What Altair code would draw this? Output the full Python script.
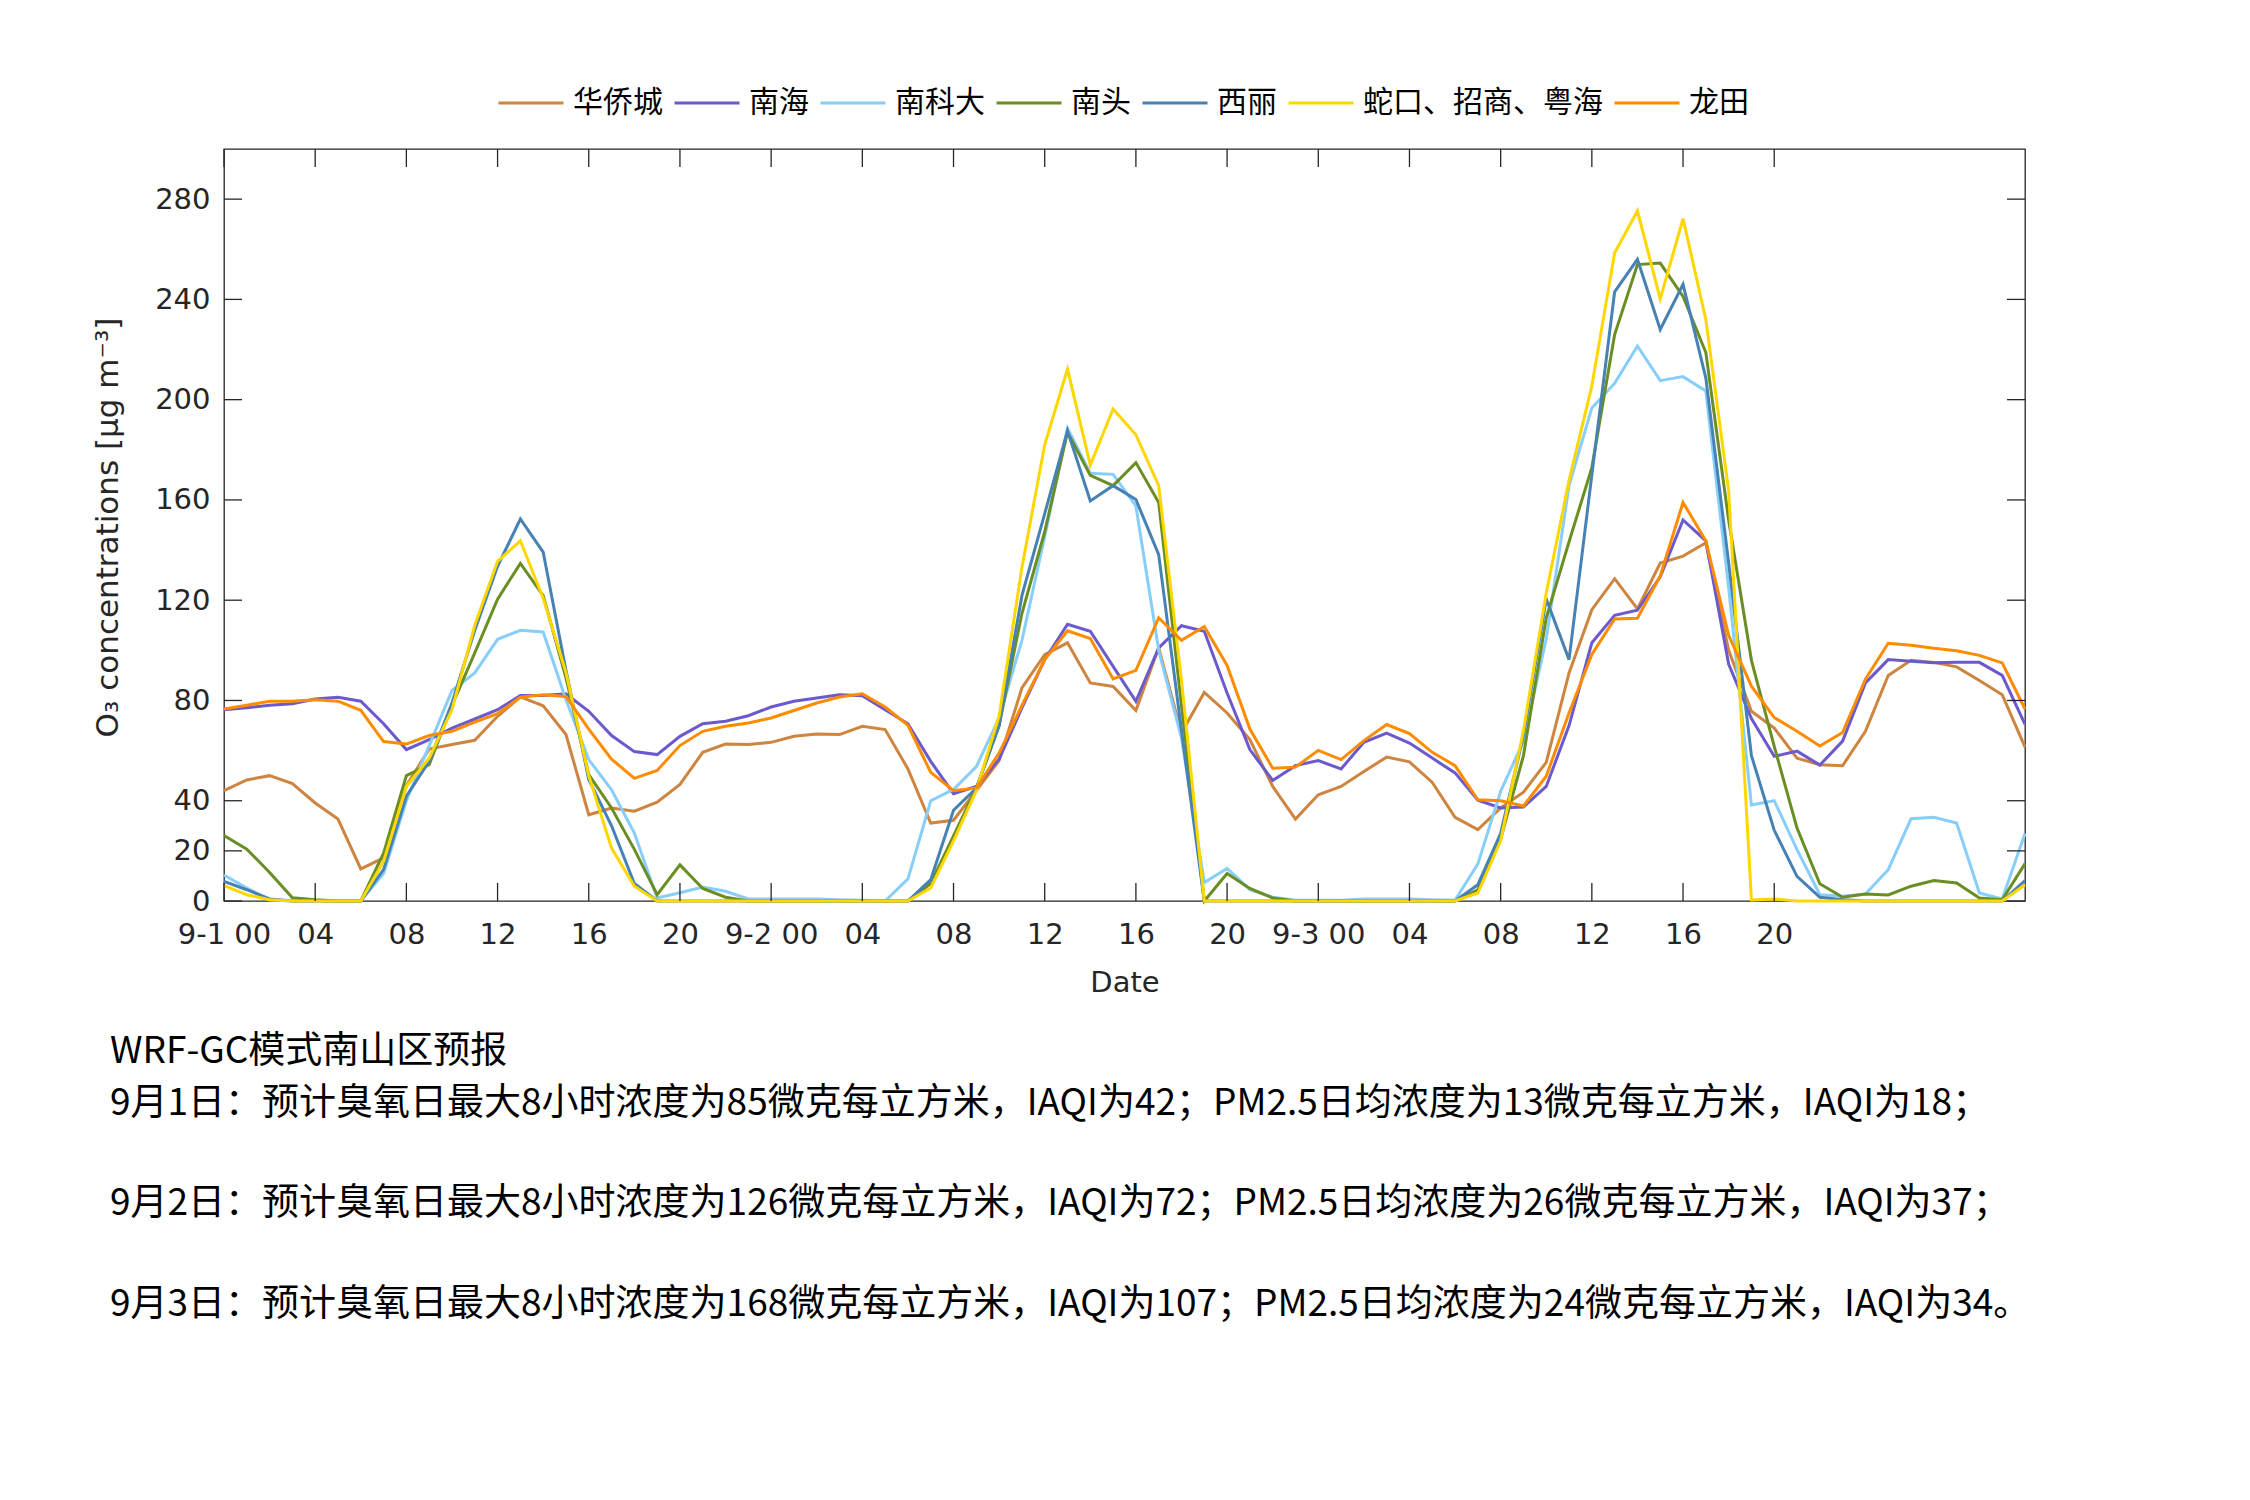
import altair as alt
import pandas as pd

# ---------------- data ----------------
hours = list(range(80))
stations = ["华侨城", "南海", "南科大", "南头", "西丽", "蛇口、招商、粤海", "龙田"]
colors = ["#CD853F", "#6A5ACD", "#87CEFA", "#6B8E23", "#4682B4", "#FFD700", "#FF8C00"]

huaqiaocheng = [44, 48.3, 50, 46.8, 39.1, 32.7, 12.8, 17.2, 46, 60.6,
                62.4, 64.1, 73.7, 81.4, 77.9, 66.4, 34.4, 37.1, 35.8, 39.4,
                46.5, 59.3, 62.6, 62.4, 63.3, 65.7, 66.6, 66.4, 69.7, 68.4,
                52.7, 31.1, 32.2, 44, 56, 85, 98.3, 103, 87, 85.6,
                76, 101, 67, 83.2, 75, 64.4, 45.7, 32.7, 42.4, 45.7,
                51.7, 57.4, 55.5, 47.3, 33.4, 28.5, 37.1, 43.4, 55.3, 91,
                116.2, 128.6, 116.5, 134.8, 137.6, 142.9, 100, 75.7, 69, 57,
                54.4, 54, 67.7, 90, 96, 95.2, 93.4, 88, 82.3, 61.4]
nanhai = [76.3, 77.1, 78.1, 78.7, 80.6, 81.3, 79.7, 70.7, 60.4, 64.4,
          69, 72.6, 76.3, 82, 82, 82.7, 75.7, 66, 59.6, 58.4,
          65.7, 70.7, 71.7, 73.9, 77.4, 79.7, 81, 82.3, 81.9, 76.3,
          70.7, 55.7, 42.8, 45.7, 56.6, 77, 96.3, 110.4, 107.6, 93.6,
          79.7, 101, 109.8, 107.6, 83, 60.4, 48.1, 54, 56, 52.7,
          63.3, 67, 63, 57, 51.1, 40.2, 37.1, 37.5, 45.7, 70,
          103, 114, 116, 129.3, 152, 143.7, 94.5, 72.8, 57.7, 59.8,
          54.2, 63.8, 87, 96.3, 95.6, 95, 95.2, 95.2, 90, 70.5]
nankeda = [10.4, 5.2, 0.5, 0, 0, 0, 0, 11, 40, 62,
           84, 91, 104.4, 108, 107.3, 80.3, 56.4, 44.4, 27.1, 1.2,
           3.3, 5.6, 3.9, 0.8, 0.8, 0.8, 0.8, 0.5, 0.3, 0,
           8.8, 40, 44.5, 53.6, 73, 104, 145.3, 188.6, 170.6, 170.2,
           157.6, 100, 65, 7.4, 13, 4.5, 1.5, 0.3, 0.3, 0.3,
           0.8, 0.8, 0.8, 0.5, 0.3, 14.8, 43.8, 63.7, 104.5, 165.7,
           196.7, 206.5, 221.4, 207.6, 209.2, 203.5, 125, 38.3, 40, 20.5,
           2.5, 1.9, 2.8, 12.5, 32.8, 33.4, 31.1, 3.2, 0.8, 26.9]
nantou = [26.1, 20.7, 11.4, 1.3, 0.5, 0, 0, 19.1, 50, 54.4,
          78, 99, 120.4, 134.7, 121.8, 89, 50.4, 37.1, 20.6, 2.5,
          14.4, 5, 1.5, 0, 0, 0, 0, 0, 0, 0,
          0, 7, 26, 45, 70, 114.7, 147.3, 187, 169.8, 165.7,
          174.9, 159, 78, 0, 11, 5, 1.2, 0, 0, 0,
          0, 0, 0, 0, 0, 4.5, 24.7, 58, 113, 143.3,
          172.9, 226, 253.9, 254.5, 241.2, 218.8, 152, 96, 61.7, 29.1,
          6.9, 1.5, 2.8, 2.4, 5.9, 8.2, 7.2, 1.2, 0.5, 14.9]
xili = [7.8, 4.5, 0.8, 0, 0, 0, 0, 12.5, 41.8, 55.7,
        79, 108, 133.5, 152.4, 139.2, 92, 48.5, 30, 7, 0,
        0, 0, 0, 0, 0, 0, 0, 0, 0, 0,
        0, 8.5, 36.2, 45, 70, 121.8, 154.5, 187.6, 159.6, 165.7,
        160.2, 138.2, 68, 0, 0, 0, 0, 0, 0, 0,
        0, 0, 0, 0, 0, 6.5, 27, 66, 120.5, 96.3,
        170, 243, 256, 228, 246, 208.6, 135, 58, 28.2, 9.8,
        1.5, 0.5, 0, 0, 0, 0, 0, 0, 0, 8.1]
shekou = [6.1, 2.5, 0.5, 0, 0, 0, 0, 15.8, 45.7, 57,
          76.3, 110, 135.5, 143.7, 120.8, 91.2, 50, 21.1, 5.9, 0,
          0, 0, 0, 0, 0, 0, 0, 0, 0, 0,
          0, 5.2, 24, 44, 73.8, 133, 182, 212.2, 173.9, 196.3,
          186, 165.7, 88, 0, 0, 0, 0, 0, 0, 0,
          0, 0, 0, 0, 0, 3.2, 24, 68, 122.9, 167.8,
          205.5, 258.6, 275.3, 240.2, 272.2, 232, 163.7, 0.4, 0.8, 0,
          0, 0, 0, 0, 0, 0, 0, 0, 0, 6.5]
longtian = [76.6, 78.1, 79.7, 79.7, 80.3, 79.7, 76.1, 63.6, 62.6, 66,
            67.7, 71.4, 74.7, 81.3, 82.3, 81.6, 68.6, 56.6, 48.9, 52.1,
            62, 67.7, 69.7, 71, 73, 76, 79, 81.4, 82.7, 77.4,
            70.1, 51.3, 44, 45.1, 59, 78, 96.3, 107.8, 104.7, 88.6,
            92, 113, 104, 109.5, 94, 68.6, 53, 53.4, 60.1, 56.4,
            64, 70.4, 66.8, 59.3, 54, 40.4, 40, 37.9, 49.8, 75,
            98.4, 112.5, 112.8, 129.7, 159, 143.7, 106, 85.7, 73.2, 67.7,
            61.8, 67.2, 88.5, 102.8, 102, 100.8, 99.8, 98, 95, 76.6]

series = [huaqiaocheng, nanhai, nankeda, nantou, xili, shekou, longtian]

x_tick_values = list(range(0, 69, 4))
x_tick_labels = ["9-1 00", "04", "08", "12", "16", "20",
                 "9-2 00", "04", "08", "12", "16", "20",
                 "9-3 00", "04", "08", "12", "16", "20"]
y_tick_values = [0, 20, 40, 80, 120, 160, 200, 240, 280]

notes = [
    "WRF-GC模式南山区预报",
    "9月1日：预计臭氧日最大8小时浓度为85微克每立方米，IAQI为42；PM2.5日均浓度为13微克每立方米，IAQI为18；",
    "9月2日：预计臭氧日最大8小时浓度为126微克每立方米，IAQI为72；PM2.5日均浓度为26微克每立方米，IAQI为37；",
    "9月3日：预计臭氧日最大8小时浓度为168微克每立方米，IAQI为107；PM2.5日均浓度为24微克每立方米，IAQI为34。",
]

# ---------------- layout ----------------
W, H = 1801, 752
PAD = {"left": 224, "top": 149, "right": 2250 - 224 - W, "bottom": 1500 - 149 - H}
AX = "#262626"
LATIN = "DejaVu Sans"
CJK = "Noto Sans CJK SC"
TICK = 18

rows = []
for name, vals in zip(stations, series):
    for h, v in zip(hours, vals):
        rows.append({"hour": h, "value": v, "station": name})
df = pd.DataFrame(rows)

xscale = alt.Scale(domain=[0, 79], nice=False, zero=False)
yscale = alt.Scale(domain=[0, 300], nice=False)

label_expr = "[" + ",".join("'" + s + "'" for s in x_tick_labels) + "][datum.value/4]"

xaxis = alt.Axis(values=x_tick_values, labelExpr=label_expr, ticks=False,
                 domain=False, grid=False, labelFlush=False, labelOverlap=False,
                 labelFontSize=29, labelFont=LATIN, labelColor=AX,
                 labelBaseline="middle", labelPadding=33,
                 title="Date", titleFontSize=29, titleFont=LATIN,
                 titleFontWeight="normal", titleColor=AX,
                 titleY=81, titleBaseline="middle")
yaxis = alt.Axis(values=y_tick_values, ticks=False, domain=False, grid=False,
                 labelFlush=False, labelOverlap=False,
                 labelFontSize=29, labelFont=LATIN, labelColor=AX, labelPadding=14,
                 title="O₃ concentrations [μg m⁻³]", titleFontSize=31,
                 titleFont=LATIN, titleFontWeight="normal", titleColor=AX,
                 titleX=-116, titleY=378, titleAngle=270,
                 titleAlign="center", titleBaseline="middle")

lines = alt.Chart(df).mark_line(strokeWidth=3).encode(
    x=alt.X("hour:Q", scale=xscale, axis=xaxis),
    y=alt.Y("value:Q", scale=yscale, axis=yaxis),
    color=alt.Color("station:N", sort=stations,
                    scale=alt.Scale(domain=stations, range=colors),
                    legend=alt.Legend(title=None, orient="none", legendX=273, legendY=-80,
                                      direction="horizontal", columns=7,
                                      symbolType="stroke", symbolSize=4225,
                                      symbolStrokeWidth=3, labelFontSize=30,
                                      labelFont=CJK, labelColor="#000000", labelLimit=0,
                                      labelOffset=8, columnPadding=5, padding=0)),
)

yt = pd.DataFrame({"value": y_tick_values})
xt = pd.DataFrame({"hour": x_tick_values})

def yticks(x0, x1):
    return alt.Chart(yt).mark_rule(color=AX, strokeWidth=1.3).encode(
        y=alt.Y("value:Q", scale=yscale, axis=yaxis), x=alt.value(x0), x2=alt.value(x1))

def xticks(y0, y1):
    return alt.Chart(xt).mark_rule(color=AX, strokeWidth=1.3).encode(
        x=alt.X("hour:Q", scale=xscale, axis=xaxis), y=alt.value(y0), y2=alt.value(y1))

tick_layers = [yticks(0, TICK), yticks(W - TICK, W), xticks(H - TICK, H), xticks(0, TICK)]

note_y = [1052, 1104, 1204, 1305]
note_layers = []
for txt, ny in zip(notes, note_y):
    note_layers.append(
        alt.Chart(pd.DataFrame({"line": [txt]})).mark_text(
            align="left", baseline="middle", fontSize=37, font=CJK, color="#000000"
        ).encode(text="line:N", x=alt.value(110 - PAD["left"]), y=alt.value(ny - PAD["top"]))
    )

chart = alt.layer(lines, *tick_layers, *note_layers).properties(
    width=W, height=H,
    autosize=alt.AutoSizeParams(type="none"),
    padding=PAD,
    background="white",
).configure_view(stroke=AX, strokeWidth=1.3)

chart.save("out.html", embed_options={"renderer": "svg", "actions": False})
